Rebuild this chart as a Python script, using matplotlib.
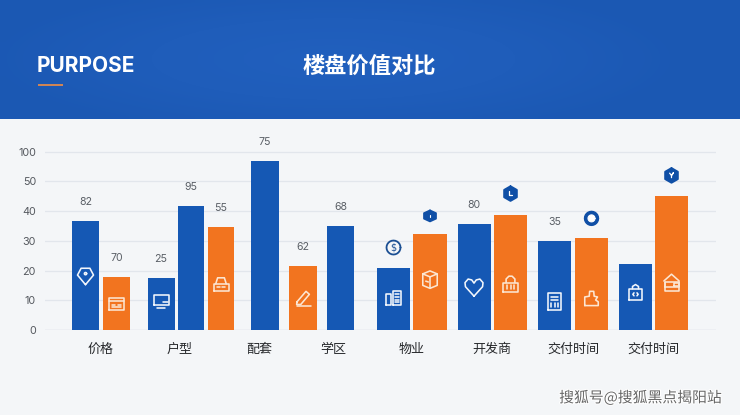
import numpy as np
import matplotlib
matplotlib.use('Agg')
from matplotlib import pyplot as plt
from matplotlib import patheffects
from matplotlib.colors import LinearSegmentedColormap
from matplotlib.patches import PathPatch, Rectangle
from matplotlib.path import Path
from matplotlib.transforms import Affine2D

plt.rcParams['font.family'] = ['Noto Sans CJK SC', 'DejaVu Sans']

# Chart data. The axis is not linear: 100 sits one step above 50
categories = ['价格', '户型', '配套', '学区', '物业', '开发商', '交付时间', '交付时间']
tick_labels = ['0', '10', '20', '30', '40', '50', '100']
bar_heights = [36.6, 17.7, 17.5, 41.8, 34.6, 56.7, 21.5, 34.9,
               21.0, 32.3, 35.5, 38.8, 29.8, 30.8, 22.3, 44.9]
bar_is_orange = [0, 1, 0, 0, 1, 0, 1, 0, 0, 1, 0, 1, 0, 1, 0, 1]
bar_labels = ['82', '70', '25', '95', '55', '75', '62', '68',
              '', '', '80', '', '35', '', '', '']

# Layout of the bars and category labels, in pixels of the reference
category_px = [101, 180, 259, 333.5, 412, 492, 573, 653]
px_per_unit = 79.4
bar_centers_px = [85.5, 116.5, 161, 191, 221, 265, 303, 340.5,
                  393.5, 430, 474, 510.5, 554.5, 591.5, 635.5, 671.5]
bar_widths_px = [27, 27, 27, 26.5, 26.5, 28, 28, 27.5,
                 33, 33.5, 33, 33, 33, 33.5, 33, 33.5]
inner_icons = ['tag', 'keyboard', 'monitor', None, 'scanner', None, 'pencil', None,
               'docs', 'box', 'heart', 'lock', 'calc', 'puzzle', 'bag', 'house']
inner_icon_y = [18.2, 8.8, 9.6, 0, 15.4, 0, 10.6, 0,
                10.8, 17.0, 14.4, 15.4, 9.6, 10.6, 12.5, 15.9]
icon_sizes = {'tag': 8, 'heart': 9, 'box': 8.5, 'house': 8.5, 'lock': 8}
top_icons = {8: ('coin', 20), 9: ('flat_hex', 18), 11: ('hex_l', 21),
             13: ('gear', 20), 15: ('hex_y', 21)}

colorBlue = '#1558B4'
colorOrange = '#F2741F'
colorDark = '#0F4FA6'
colorCream = '#FCE6D2'


def draw_lines(lines, cx, cy, size, color, lw=1.15, fill=None):
    """Draw polylines given in a unit box, centred on display pixel cx, cy."""
    tr = Affine2D().scale(size).translate(cx, cy)
    for pts in lines:
        verts = list(pts)
        codes = [Path.MOVETO] + [Path.LINETO] * (len(verts) - 1)
        fig.add_artist(PathPatch(Path(verts, codes), transform=tr, fill=fill is not None,
                                 facecolor=fill, edgecolor=color, lw=lw, zorder=6,
                                 joinstyle='round', capstyle='round'))


def ring(r, x0=0, y0=0, n=24, sy=1):
    ang = np.linspace(0, 2*np.pi, n + 1)
    return [(x0 + r*np.cos(a), y0 + sy*r*np.sin(a)) for a in ang]


def box(x0, y0, x1, y1):
    return [(x0, y0), (x1, y0), (x1, y1), (x0, y1), (x0, y0)]


def hexagon(sx=1, sy=1):
    ang = np.radians(np.arange(90, 451, 60))
    return [(sx*np.cos(a), sy*np.sin(a)) for a in ang]


ICONS = {
    'tag': [[(0, -1.1), (-1, 0.1), (-0.55, 0.95), (0.55, 0.95), (1, 0.1), (0, -1.1)],
            ring(0.14, 0, 0.28)],
    'keyboard': [box(-1, -0.8, 1, 0.8), [(-1, 0.35), (1, 0.35)], [(-0.6, -0.1), (-0.2, -0.1)],
                 [(0.2, -0.1), (0.6, -0.1)], [(-0.6, -0.45), (0.6, -0.45)]],
    'monitor': [box(-1, -0.5, 1, 0.9), [(0.2, -0.05), (0.95, -0.05)], [(-0.5, -0.85), (0.5, -0.85)]],
    'scanner': [[(-1, -0.85), (1, -0.85), (1, 0.05), (-1, 0.05), (-1, -0.85)],
                [(-0.7, 0.05), (-0.45, 0.85), (0.45, 0.85), (0.7, 0.05)],
                [(-0.55, -0.4), (-0.1, -0.4)], [(0.15, -0.4), (0.55, -0.4)]],
    'pencil': [[(-0.8, -0.45), (0.4, 0.95), (0.85, 0.55), (-0.3, -0.8), (-0.85, -0.8), (-0.8, -0.45)],
               [(-0.85, -1.05), (1, -1.05)]],
    'docs': [box(-0.95, -0.9, -0.3, 0.5), box(-0.05, -0.9, 0.95, 0.9), [(0.2, 0.45), (0.7, 0.45)],
             [(0.2, 0.1), (0.7, 0.1)], [(0.2, -0.25), (0.7, -0.25)], [(0.2, -0.6), (0.7, -0.6)]],
    'box': [[(-0.85, 0.65), (0, 1), (0.85, 0.65), (0.85, -0.7), (0, -1.05), (-0.85, -0.7), (-0.85, 0.65)],
            [(-0.85, 0.65), (0, 0.3), (0.85, 0.65)], [(0, 0.3), (0, -1.05)], [(-0.5, -0.2), (-0.2, -0.3)]],
    'heart': [[(0, -1), (-0.95, 0.05), (-1, 0.5), (-0.65, 0.9), (-0.25, 0.8), (0, 0.45),
               (0.25, 0.8), (0.65, 0.9), (1, 0.5), (0.95, 0.05), (0, -1)]],
    'lock': [box(-0.95, -0.95, 0.95, 0.2), [(-0.55, 0.2), (-0.55, 0.65), (-0.2, 1), (0.2, 1), (0.55, 0.65), (0.55, 0.2)],
             [(-0.45, -0.65), (-0.45, -0.1)], [(0, -0.65), (0, -0.1)], [(0.45, -0.65), (0.45, -0.1)]],
    'calc': [box(-0.85, -1.1, 0.85, 1.1), [(-0.5, 0.6), (0.5, 0.6)], [(-0.5, 0.2), (0.5, 0.2)],
             [(-0.45, -0.75), (-0.45, -0.2)], [(0, -0.75), (0, -0.2)], [(0.45, -0.75), (0.45, -0.2)]],
    'puzzle': [[(-0.9, -0.95), (-0.9, 0.2), (-0.3, 0.3), (-0.25, 0.95), (0.3, 0.95), (0.35, 0.3),
                (0.8, 0.2), (0.55, -0.2), (0.9, -0.45), (0.9, -0.95), (-0.9, -0.95)]],
    'bag': [box(-0.9, -0.95, 0.9, 0.55), [(-0.4, 0.55), (-0.4, 0.85), (0, 1.1), (0.4, 0.85), (0.4, 0.55)],
            [(-0.2, 0), (-0.35, -0.2), (-0.2, -0.4)], [(0.2, 0), (0.35, -0.2), (0.2, -0.4)]],
    'house': [[(-0.9, 0.2), (0, 1), (0.9, 0.2)], [(-0.8, 0.1), (-0.8, -1), (0.85, -1), (0.85, 0.1)],
              box(-0.8, -0.5, 0.85, 0.1), box(0.25, -0.35, 0.85, -0.05)],
}


fig = plt.figure(figsize=(7.4, 4.15), dpi=100, facecolor='#F4F6F8')

# Header band and page background sit on a full figure axes in pixel units
page = fig.add_axes([0, 0, 1, 1], zorder=0)
headerCmap = LinearSegmentedColormap.from_list('header', ['#1B58B3', '#1F5DBA', '#2160BE'])
xx, yy = np.meshgrid(np.linspace(-1, 1, 60), np.linspace(-1, 1, 20))
page.imshow(1 - np.clip(np.hypot(xx + 0.1, yy*0.7), 0, 1), cmap=headerCmap, aspect='auto',
            extent=(0, 740, 119, 0), interpolation='bilinear', vmin=0, vmax=1)
page.set_xlim(0, 740)
page.set_ylim(415, 0)
page.axis('off')
page.add_patch(Rectangle((38, 84), 25, 2.4, color='#CF8455', lw=0))
page.text(37, 66, 'PURPOSE', color='white', fontsize=15, fontweight='bold',
          family=['Inter', 'DejaVu Sans'], va='center', ha='left')
page.text(369.5, 66, '楼盘价值对比', color='white', fontsize=16, fontweight='bold',
          va='center', ha='center')
page.text(722, 398, '搜狐号@搜狐黑点揭阳站', color='#666666', fontsize=10.7, va='center', ha='right',
          path_effects=[patheffects.withStroke(linewidth=1.5, foreground='white')])

# Main axes: 1 x unit = 79.4 px, 1 y unit = 2.975 px
ax_left, ax_right, ax_bottom, y_top = 45, 716, 330, 65
ax = fig.add_axes([ax_left/740, (415 - ax_bottom)/415, (ax_right - ax_left)/740, y_top*2.975/415], zorder=1)
ax.patch.set_alpha(0)
x_origin = category_px[0]
ax.set_xlim((ax_left - x_origin)/px_per_unit, (ax_right - x_origin)/px_per_unit)
ax.set_ylim(0, y_top)

bar_x = (np.array(bar_centers_px) - x_origin)/px_per_unit
category_x = (np.array(category_px) - x_origin)/px_per_unit
widths = np.array(bar_widths_px)/px_per_unit
colors = [colorOrange if o else colorBlue for o in bar_is_orange]
ax.bar(bar_x, bar_heights, width=widths, color=colors, zorder=3)

for x, h, lab in zip(bar_x, bar_heights, bar_labels):
    if lab:
        ax.annotate(lab, (x, h), xytext=(0, 19*0.72), textcoords='offset points', ha='center',
                    va='center', fontsize=7.6, color='#5A5F66', family=['Inter', 'DejaVu Sans'])

ax.set_yticks(np.arange(len(tick_labels))*10, tick_labels, family=['Inter', 'DejaVu Sans'])
ax.set_xticks(category_x, categories)
ax.tick_params(axis='y', length=0, pad=6.5, labelsize=7.8, labelcolor='#55595F')
ax.tick_params(axis='x', length=0, pad=9.5, labelsize=9.4, labelcolor='#26282B')
for lab in ax.get_xticklabels():
    lab.set_fontweight('medium')
ax.grid(axis='y', color='#E2E6EC', lw=0.9, zorder=0)
ax.set_axisbelow(True)
for side in ax.spines:
    ax.spines[side].set_visible(False)
ax.axhline(0, color='#DDE1E7', lw=1.0, zorder=1)

# Small line icons inside the bars and markers above some of them
for x, name, y, orange in zip(bar_x, inner_icons, inner_icon_y, bar_is_orange):
    if name:
        px, py = ax.transData.transform((x, y))
        draw_lines(ICONS[name], px, py, icon_sizes.get(name, 7.5), colorCream if orange else '#F2F6FC')

for i, (name, lift) in top_icons.items():
    px, py = ax.transData.transform((bar_x[i], bar_heights[i]))
    py += lift
    if name == 'coin':
        draw_lines([ring(1)], px, py, 7, '#1B4F93', lw=1.3)
        fig.text(px/740, py/415, '$', fontsize=7, color='#1B4F93', ha='center', va='center',
                 family='DejaVu Sans', zorder=7)
    elif name == 'flat_hex':
        draw_lines([hexagon(1, 0.8)], px, py, 7, colorDark, fill=colorDark)
        draw_lines([[(0, -0.2), (0, 0.15)]], px, py, 7, 'white', lw=0.8)
    elif name == 'gear':
        draw_lines([ring(1)], px, py, 7, colorDark, lw=1, fill=colorDark)
        draw_lines([ring(0.5)], px, py, 7, 'white', lw=0.8, fill='white')
        draw_lines([[(-0.22, 0), (-0.2, 0)], [(0.2, 0), (0.22, 0)]], px, py, 7, colorDark, lw=1)
    else:
        draw_lines([hexagon()], px, py, 7.5, colorDark, fill=colorDark)
        mark = [(-0.15, 0.3), (-0.15, -0.2), (0.2, -0.2)] if name == 'hex_l' else [(-0.25, 0.3), (0, 0), (0.25, 0.35), (0, 0), (0, -0.3)]
        draw_lines([mark], px, py, 7.5, 'white', lw=0.9)

fig.savefig('out.png', dpi=100, facecolor=fig.get_facecolor())
